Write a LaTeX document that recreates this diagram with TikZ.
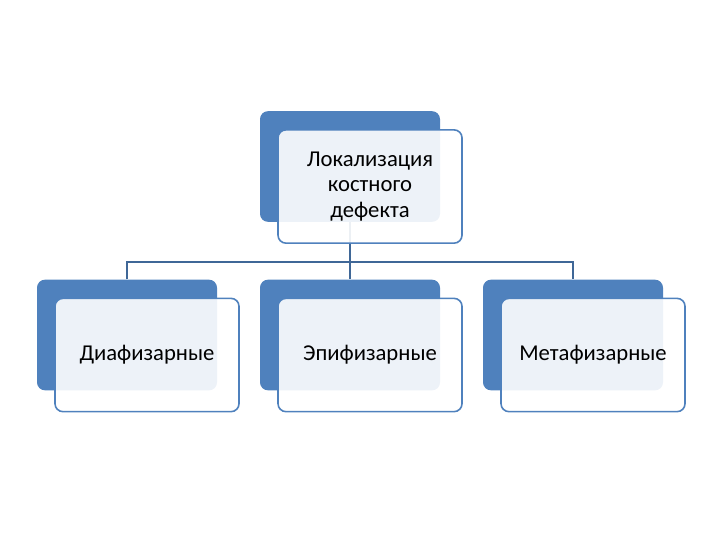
\documentclass[tikz,border=0pt]{standalone}
\usepackage{fontspec}
\setmainfont{Carlito}
\definecolor{acc}{HTML}{4F81BD}
\begin{document}
\begin{tikzpicture}[x=0.75pt,y=-0.75pt,
  back/.style={fill=acc,draw=none,rounded corners=6pt,minimum width=135pt,minimum height=83pt,inner sep=0pt},
  front/.style={fill=white,fill opacity=0.9,text opacity=1,draw=acc,line width=1.2pt,rounded corners=6pt,minimum width=138pt,minimum height=85pt,inner sep=0pt,align=center,font=\fontsize{17}{19}\selectfont},
  conn/.style={draw=acc!80!black,line width=0.9pt}]
\useasboundingbox (0,0) rectangle (720,540);
\node[back] (tb) at (350,166.5) {};
\node[back] (lb) at (127,335) {};
\node[back] (mb) at (350,335) {};
\node[back] (rb) at (573,335) {};
\draw[conn] (tb.south) -- (350,262) coordinate (j);
\draw[conn] (lb.north) |- (j) -| (rb.north);
\draw[conn] (j) -- (mb.north);
\node[front] (t) at (370,186.5) {Локализация\\костного\\дефекта};
\node[front] (l) at (147,355) {Диафизарные};
\node[front] (m) at (370,355) {Эпифизарные};
\node[front] (r) at (593,355) {Метафизарные};
\end{tikzpicture}
\end{document}
